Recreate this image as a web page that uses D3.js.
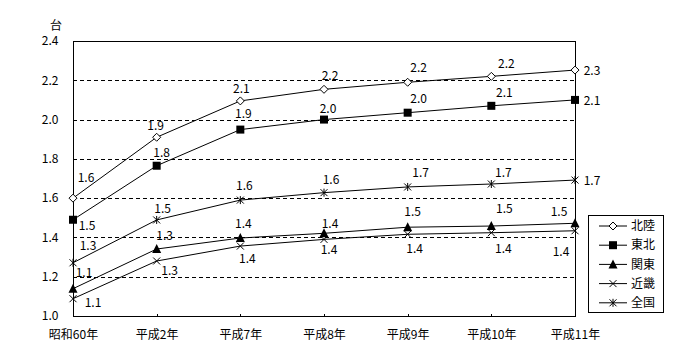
<!DOCTYPE html>
<html>
<head>
<meta charset="utf-8">
<script src="https://cdn.jsdelivr.net/npm/d3@7"></script>
<style>
  body { margin: 0; background: #fff; }
  svg text { font-family: "Noto Sans CJK JP", sans-serif; font-size: 12px; fill: #000; }
</style>
</head>
<body>
<svg id="chart" width="700" height="360"></svg>
<script>
var categories = ["昭和60年", "平成2年", "平成7年", "平成8年", "平成9年", "平成10年", "平成11年"];
var seriesNames = ["北陸", "東北", "関東", "近畿", "全国"];

var hokuriku = [1.60, 1.91, 2.095, 2.154, 2.19, 2.22, 2.252];
var tohoku   = [1.49, 1.765, 1.949, 2.00, 2.035, 2.07, 2.10];
var kanto    = [1.139, 1.341, 1.397, 1.421, 1.452, 1.458, 1.472];
var kinki    = [1.088, 1.28, 1.356, 1.39, 1.416, 1.424, 1.434];
var zenkoku  = [1.271, 1.489, 1.59, 1.628, 1.657, 1.672, 1.692];

var yTicks = [1.0, 1.2, 1.4, 1.6, 1.8, 2.0, 2.2, 2.4];

var width = 700;
var height = 360;
var plot = { left: 73, top: 41, right: 575, bottom: 316 };

// label offsets from each point (layout only)
var labelOffsets = {
    "北陸": [[13, -20], [-1, -11], [1, -12], [6, -14], [11, -14], [15, -13], [17, 1]],
    "東北": [[14, 6], [5, -13], [3, -16], [4, -11], [11, -14], [13, -13], [17, 1]],
    "関東": [[11, -16], [8, -13], [3, -14], [6, -10], [5, -15], [13, -17], [-16, -11]],
    "近畿": [[20, 4], [13, 10], [7, 13], [5, 10], [7, 15], [12, 16], [-14, 21]],
    "全国": [[15, -17], [6, -11], [4, -14], [7, -13], [13, -14], [12, -11], [17, 1]]
};

var series = [
    { name: "北陸", values: hokuriku, marker: "diamond" },
    { name: "東北", values: tohoku, marker: "square" },
    { name: "関東", values: kanto, marker: "triangle" },
    { name: "近畿", values: kinki, marker: "cross" },
    { name: "全国", values: zenkoku, marker: "star" }
];

var svg = d3.select("#chart");

var x = d3.scalePoint().domain(categories).range([plot.left, plot.right]).padding(0);
var y = d3.scaleLinear().domain([1.0, 2.4]).range([plot.bottom, plot.top]);

// dashed gridlines
svg.append("g")
    .selectAll("line")
    .data(yTicks.filter(function (d) { return d > 1.0 && d < 2.4; }))
    .enter()
    .append("line")
    .attr("x1", plot.left)
    .attr("x2", plot.right)
    .attr("y1", function (d) { return Math.round(y(d)) + 0.5; })
    .attr("y2", function (d) { return Math.round(y(d)) + 0.5; })
    .attr("stroke", "#000")
    .attr("stroke-width", 1)
    .attr("stroke-dasharray", "4,3")
    .attr("shape-rendering", "crispEdges");

// frame
svg.append("rect")
    .attr("x", plot.left + 0.5)
    .attr("y", plot.top + 0.5)
    .attr("width", plot.right - plot.left)
    .attr("height", plot.bottom - plot.top)
    .attr("fill", "none")
    .attr("stroke", "#000")
    .attr("shape-rendering", "crispEdges");

// x axis with inward ticks
var xAxis = svg.append("g")
    .attr("transform", "translate(0," + (plot.bottom + 0.5) + ")")
    .call(d3.axisBottom(x).tickSize(-3).tickPadding(16));
xAxis.select(".domain").remove();
xAxis.selectAll("line").attr("shape-rendering", "crispEdges");
xAxis.selectAll("text")
    .attr("font-family", "Noto Sans CJK JP, sans-serif")
    .attr("font-size", 13)
    .attr("y", 18)
    .attr("dy", "0.35em");

// y axis labels
var yAxis = svg.append("g")
    .attr("transform", "translate(" + (plot.left + 0.5) + ",0)")
    .call(d3.axisLeft(y).tickValues(yTicks).tickFormat(d3.format(".1f")).tickSize(0).tickPadding(15));
yAxis.select(".domain").remove();
yAxis.selectAll("text")
    .attr("font-family", "Noto Sans CJK JP, sans-serif")
    .attr("font-size", 12);

svg.append("text")
    .attr("x", 56)
    .attr("y", 26)
    .attr("dy", "0.35em")
    .attr("text-anchor", "middle")
    .text("台");

var line = d3.line()
    .x(function (d, i) { return x(categories[i]); })
    .y(function (d) { return y(d); });

function drawMarker(g, type, cx, cy) {
    if (type === "diamond") {
        g.append("path")
            .attr("d", "M" + cx + "," + (cy - 4) + "L" + (cx + 4) + "," + cy + "L" + cx + "," + (cy + 4) + "L" + (cx - 4) + "," + cy + "Z")
            .attr("fill", "#fff").attr("stroke", "#000").attr("stroke-width", 1);
    } else if (type === "square") {
        g.append("rect")
            .attr("x", cx - 4).attr("y", cy - 4)
            .attr("width", 8).attr("height", 8)
            .attr("fill", "#000");
    } else if (type === "triangle") {
        g.append("path")
            .attr("d", "M" + cx + "," + (cy - 5) + "L" + (cx + 4.5) + "," + (cy + 4) + "L" + (cx - 4.5) + "," + (cy + 4) + "Z")
            .attr("fill", "#000");
    } else if (type === "cross") {
        g.append("path")
            .attr("d", "M" + (cx - 3.5) + "," + (cy - 3.5) + "L" + (cx + 3.5) + "," + (cy + 3.5) +
                "M" + (cx + 3.5) + "," + (cy - 3.5) + "L" + (cx - 3.5) + "," + (cy + 3.5))
            .attr("stroke", "#000").attr("stroke-width", 1);
    } else if (type === "star") {
        g.append("path")
            .attr("d", "M" + (cx - 3.5) + "," + (cy - 3.5) + "L" + (cx + 3.5) + "," + (cy + 3.5) +
                "M" + (cx + 3.5) + "," + (cy - 3.5) + "L" + (cx - 3.5) + "," + (cy + 3.5) +
                "M" + cx + "," + (cy - 4) + "L" + cx + "," + (cy + 4))
            .attr("stroke", "#000").attr("stroke-width", 1);
    }
}

var fmt = d3.format(".1f");

series.forEach(function (s) {
    var g = svg.append("g").attr("class", "series");
    g.append("path")
        .datum(s.values)
        .attr("d", line)
        .attr("fill", "none")
        .attr("stroke", "#000")
        .attr("stroke-width", 1);

    s.values.forEach(function (v, i) {
        var cx = x(categories[i]);
        var cy = y(v);
        drawMarker(g, s.marker, cx, cy);
        var off = labelOffsets[s.name][i];
        g.append("text")
            .attr("x", cx + off[0])
            .attr("y", cy + off[1])
            .attr("dy", "0.35em")
            .attr("text-anchor", "middle")
            .text(fmt(v));
    });
});

// legend
var legend = svg.append("g");
legend.append("rect")
    .attr("x", 588.5).attr("y", 215.5)
    .attr("width", 75).attr("height", 97)
    .attr("fill", "#fff").attr("stroke", "#000")
    .attr("shape-rendering", "crispEdges");

series.forEach(function (s, i) {
    var ly = 226 + i * 19.2;
    legend.append("line")
        .attr("x1", 599).attr("x2", 627)
        .attr("y1", ly).attr("y2", ly)
        .attr("stroke", "#000");
    drawMarker(legend, s.marker, 613, ly);
    legend.append("text")
        .attr("x", 631)
        .attr("y", ly)
        .attr("dy", "0.35em")
        .attr("font-size", 13)
        .text(s.name);
});
</script>
</body>
</html>
